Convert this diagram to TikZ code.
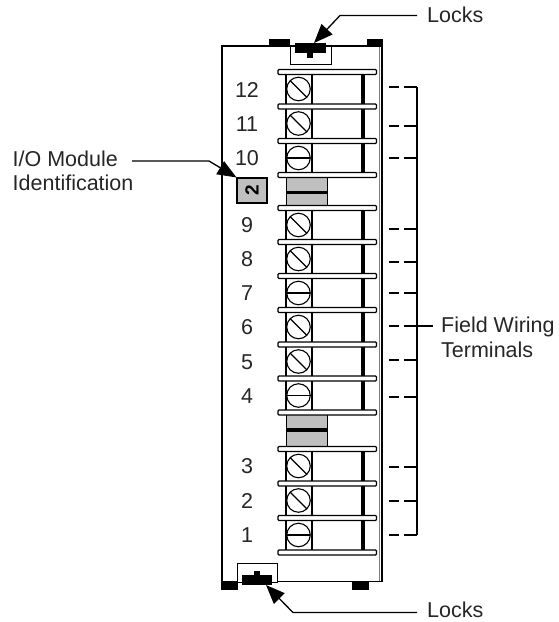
\documentclass[tikz,border=0pt]{standalone}
\usepackage{fontspec}
\setmainfont{Liberation Sans}
\usetikzlibrary{arrows.meta,calc}
\tikzset{
  lab/.style={font=\fontsize{21.5}{24.5}\selectfont,inner sep=0pt,text=black!85},
  num/.style={lab,anchor=center},
  leader/.style={line width=1.3pt,-{Triangle[length=19pt,width=15pt]}},
  rail/.style={draw=black,fill=white,line width=1.2pt,rounded corners=1pt},
  screw/.style={draw=black,fill=white,line width=1.1pt,circle,minimum size=23.5pt,inner sep=0pt},
  dashpiece/.style={line width=1.1pt}
}
\newcommand{\terminal}[4]{% top y, label x, label, tilt
  \draw[line width=1.3pt] (286,#1) -- (286,#1+34) (312,#1) -- (312,#1+34);
  \draw[line width=3.4pt] (363,#1) -- (363,#1+34);
  \node[screw] (s#3) at (298.5,#1+17) {};
  \draw[line width=1.1pt] ($(s#3.center)+(#4:11.7)$) -- ($(s#3.center)+(#4+180:11.7)$);
  \node[num] (n#3) at (#2,#1+17.5) {#3};
}
\begin{document}
\begin{tikzpicture}[x=1pt,y=-1pt]
\useasboundingbox (0,0) rectangle (558,622);
\fill[white] (0,0) rectangle (558,622);
% body
\draw[line width=1.3pt] (222,46) rectangle (382,581.5);
\draw[line width=.8pt,black!50] (379,47) -- (379,581);
% lugs
\fill (269,38.5) rectangle (290,46);
\fill (367,38.5) rectangle (382.5,46);
\fill (221,581) rectangle (238,590);
\fill (352,581) rectangle (369,590);
% top lock
\draw[line width=1pt,fill=white] (290.5,46) rectangle (331,64);
\fill (295,43) rectangle (326,53);
\fill (307,53) rectangle (312.5,57.5);
% bottom lock
\draw[line width=1pt,fill=white] (237.5,563.5) rectangle (277,582);
\fill (242,575) rectangle (272,585);
\fill (254,571) rectangle (260,575);
% terminals
\terminal{72}{247}{12}{45}
\terminal{106.5}{247}{11}{45}
\terminal{141}{247}{10}{0}
\terminal{208}{247}{9}{45}
\terminal{242}{247}{8}{45}
\terminal{276}{247}{7}{0}
\terminal{310}{247}{6}{45}
\terminal{344.5}{247}{5}{45}
\terminal{378.5}{247}{4}{0}
\terminal{449}{247}{3}{45}
\terminal{483.5}{247}{2}{45}
\terminal{518}{247}{1}{0}
% blanks
\foreach \y in {175,412.5}{
  \fill[black!25] (286,\y) rectangle (327,\y+35);
  \draw[line width=1pt] (286,\y) rectangle (327,\y+35);
  \draw[line width=3.2pt] (286,\y+17.5) -- (327,\y+17.5);
}
% rails
\foreach \y in {72,106.5,141,175,208,242,276,310,344.5,378.5,412.5,449,483.5,518,552.5}{
  \draw[rail] (278,\y-2.5) rectangle (376.5,\y+2.5);
}
% ID tag
\node[draw=black,fill=black!25,line width=1.1pt,minimum width=30pt,minimum height=25pt,inner sep=0pt,font=\fontsize{19}{19}\selectfont\bfseries] (id) at (252,190.5) {\rotatebox{90}{2}};
% bracket
\coordinate (bt) at (417,87);
\coordinate (bb) at (417,535);
\coordinate (bm) at (417,326);
\draw[line width=1.3pt] (bt) -- (bb);
\foreach \y in {87,126,158,229,262,293,326,360,397,467,501,535}{
  \draw[dashpiece] (389,\y) -- (399,\y) (404,\y) -- (417,\y);
}
% labels
\node[lab,anchor=base west] (lk1) at (427,22) {Locks};
\node[lab,anchor=base west] (lk2) at (427,617.5) {Locks};
\node[lab,anchor=base west] (fw) at (441,332) {Field Wiring};
\node[lab,anchor=base west] (tm) at (441,357) {Terminals};
\node[lab,anchor=base west] (io) at (12.5,166) {I/O Module};
\node[lab,anchor=base west] (idn) at (12.5,190) {Identification};
% leaders
\coordinate (a1s) at (417,15.5);
\coordinate (a1) at (340,15.5);
\coordinate (a1t) at (314,43);
\draw[leader] (a1s) -- (a1) -- (a1t);
\coordinate (a2s) at (417,612.5);
\coordinate (a2) at (293,612.5);
\coordinate (a2t) at (266,585);
\draw[leader] (a2s) -- (a2) -- (a2t);
\coordinate (a3s) at (132,161);
\coordinate (a3) at (209,161);
\draw[leader] (a3s) -- (a3) -- (id.north west);
\draw[line width=1.3pt] (bm) -- (433,326);
\end{tikzpicture}
\end{document}
